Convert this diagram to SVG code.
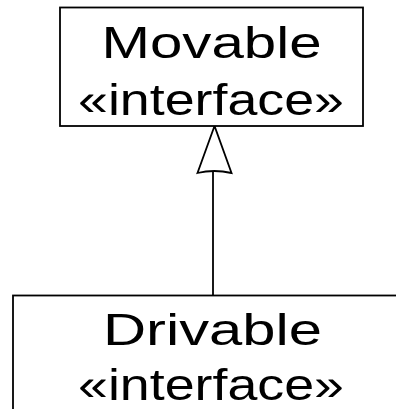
<svg xmlns="http://www.w3.org/2000/svg" width="396" height="409" viewBox="0 0 396 409">
  <style>
    .box { fill: #ffffff; stroke: #000000; stroke-width: 1.8; }
    .label { font-family: "Liberation Sans", Arial, sans-serif; font-size: 45px; fill: #000000; text-anchor: middle; }
    .edge { fill: none; stroke: #000000; stroke-width: 1.8; }
    .head { fill: #ffffff; stroke: #000000; stroke-width: 1.8; stroke-linejoin: miter; }
  </style>
  <rect width="396" height="409" fill="#ffffff"/>

  <!-- generalization: Drivable extends Movable -->
  <g id="connectors">
    <line class="edge" x1="213" y1="171" x2="213" y2="295.5"/>
    <path class="head" d="M214.5,126 L197.5,173 Q214,169 231.5,173 Z"/>
  </g>

  <g id="movable">
    <rect class="box" x="60" y="7.5" width="303" height="118.5"/>
    <text class="label" x="211.5" y="57.7" textLength="220" lengthAdjust="spacingAndGlyphs">Movable</text>
    <text class="label" x="211" y="115" textLength="266" lengthAdjust="spacingAndGlyphs">«interface»</text>
  </g>

  <g id="drivable">
    <rect class="box" x="13" y="295.5" width="400" height="200"/>
    <text class="label" x="212.5" y="345" textLength="219" lengthAdjust="spacingAndGlyphs">Drivable</text>
    <text class="label" x="211" y="400" textLength="266" lengthAdjust="spacingAndGlyphs">«interface»</text>
  </g>
</svg>
